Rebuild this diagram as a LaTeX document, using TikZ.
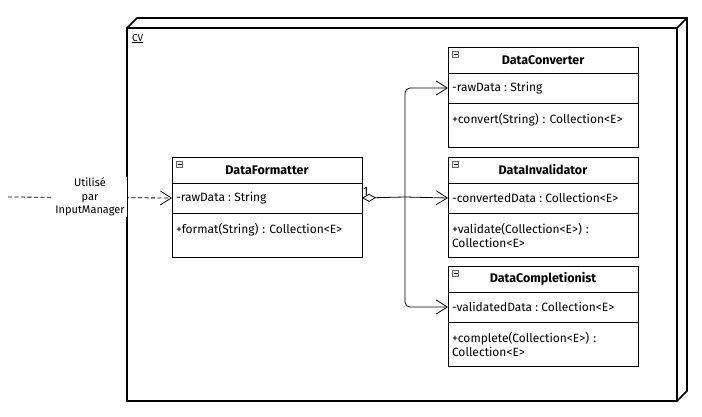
\documentclass[tikz,border=0pt]{standalone}
\usepackage{fontspec}
\setmainfont{Fira Sans}
\usetikzlibrary{arrows.meta}
\frenchspacing
\begin{document}
\begin{tikzpicture}[x=1pt,y=-1pt,
  font=\fontsize{12}{14}\selectfont,
  every node/.style={inner sep=0pt, outer sep=0pt},
  classhead/.style={draw, line width=0.9pt, minimum width=190pt, minimum height=26pt, anchor=north west, font=\fontsize{12.5}{14}\selectfont\bfseries},
  classattr/.style={draw, line width=0.9pt, minimum width=190pt, minimum height=30pt, anchor=north west},
  classops/.style={draw, line width=0.9pt, minimum width=190pt, minimum height=44pt, anchor=north west},
  member/.style={anchor=west, align=left},
  optext/.style={anchor=north west, align=left, text width=185pt},
  toggle/.style={draw=gray!80!black, fill=gray!15, minimum width=6pt, minimum height=6pt, line width=0.5pt},
  link/.style={line width=0.8pt, rounded corners=5pt},
  openhead/.style={-{Straight Barb[length=11pt,width=14pt,line width=0.8pt]}},
  diam/.style={{Diamond[open,length=14pt,width=8pt,line width=0.8pt]}-},
]
\useasboundingbox (0,0) rectangle (702,417);

% the CV deployment node (3D box)
\draw[line width=1.6pt, line join=miter] (127,28) rectangle (677,401);
\draw[line width=1.6pt, line join=miter] (127,28) -- (137,18) -- (687,18) -- (687,391) -- (677,401);
\draw[line width=1.6pt] (677,28) -- (687,18);
\node[anchor=north west, font=\fontsize{10}{12}\selectfont] (cv) at (132,34) {\underline{CV}};

% class boxes: header, attributes, operations
\newcommand{\umlclass}[6]{%
  \node[classhead] (#1h) at (#2,#3) {#4};
  \node[classattr] (#1a) at (#1h.south west) {};
  \node[classops]  (#1o) at (#1a.south west) {};
  \node[toggle] (#1t) at ([shift={(7.5,7.5)}]#1h.north west) {};
  \draw[line width=0.6pt] ([shift={(-2,0)}]#1t.center) -- ([shift={(2,0)}]#1t.center);
  \node[member] (#1m) at ([xshift=4pt]#1a.west) {#5};
  \node[optext] (#1p) at ([shift={(4,10)}]#1o.north west) {#6};
}

\umlclass{df}{172}{157}{DataFormatter}{-rawData : String}{+format(String) : Collection<E>}
\umlclass{dc}{448}{47}{DataConverter}{-rawData : String}{+convert(String) : Collection<E>}
\umlclass{di}{448}{157}{DataInvalidator}{-convertedData : Collection<E>}{+validate(Collection<E>) :\\Collection<E>}
\umlclass{dk}{448}{266}{DataCompletionist}{-validatedData : Collection<E>}{+complete(Collection<E>) :\\Collection<E>}

% aggregation links from the formatter
\coordinate (fork) at (405,197);
\draw[link, diam] (dfa.east) -- (fork);
\draw[link, openhead] (fork) -- (dia.west);
\draw[link, openhead] (fork) |- (dca.west);
\draw[link, openhead] (fork) |- (dka.west);
\node[anchor=south west] (mult) at ([shift={(1,-2)}]dfa.east) {1};

% incoming dependency
\coordinate (src) at (8,197);
\draw[line width=0.8pt, dash pattern=on 4pt off 2.5pt, openhead] (src) -- (dfa.west);
\node[fill=white, inner xsep=2pt, inner ysep=1pt, align=center, font=\fontsize{11}{13.5}\selectfont] (use) at (90,197) {Utilisé\\par\\InputManager};
\end{tikzpicture}
\end{document}
